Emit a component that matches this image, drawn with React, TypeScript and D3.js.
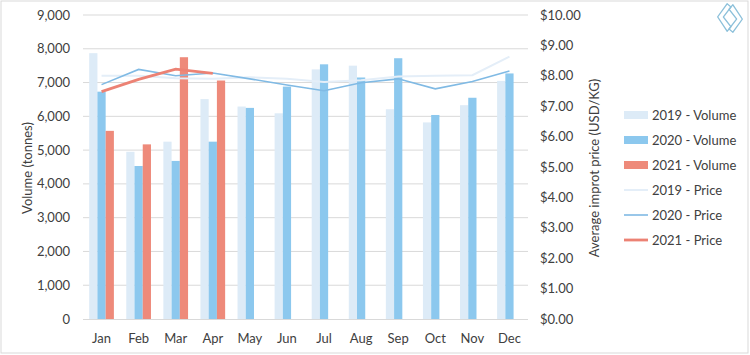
import React from "react";
import * as d3 from "d3";

const months = ["Jan", "Feb", "Mar", "Apr", "May", "Jun", "Jul", "Aug", "Sep", "Oct", "Nov", "Dec"];
const vol2019 = [7870, 4950, 5250, 6510, 6290, 6090, 7390, 7500, 6210, 5820, 6330, 7050];
const vol2020 = [6730, 4530, 4680, 5250, 6250, 6880, 7540, 7150, 7720, 6040, 6550, 7270];
const vol2021 = [5570, 5170, 7750, 7060];
const price2019 = [8.0, 8.0, 7.92, 7.9, 7.95, 7.9, 7.8, 7.85, 7.98, 8.0, 8.02, 8.63];
const price2020 = [7.71, 8.21, 8.0, 8.09, 7.9, 7.7, 7.51, 7.77, 7.9, 7.57, 7.81, 8.16];
const price2021 = [7.48, 7.88, 8.22, 8.08];
const volTicks = [0, 1000, 2000, 3000, 4000, 5000, 6000, 7000, 8000, 9000];
const priceTicks = [0, 1, 2, 3, 4, 5, 6, 7, 8, 9, 10];
const legendLabels = ["2019 - Volume", "2020 - Volume", "2021 - Volume", "2019 - Price", "2020 - Price", "2021 - Price"];

const C19 = "#DDEBF7";
const C20 = "#8CC8EE";
const C21 = "#EE8A7A";
const L19 = "#E4EEF8";
const L20 = "#80BAE4";
const L21 = "#EC8274";
const FONT = "Lato, 'Open Sans', sans-serif";

export default function App() {
  const W = 750, H = 355;
  const left = 83, right = 528, top = 15, bottom = 319;
  const x = d3.scaleBand<string>().domain(months).range([left, right]).padding(0);
  const bw = x.bandwidth();
  const inner = d3.scaleBand<string>().domain(["a", "b", "c"]).range([bw * 0.167, bw * 0.833]).padding(0);
  const yV = d3.scaleLinear().domain([0, 9000]).range([bottom, top]);
  const yP = d3.scaleLinear().domain([0, 10]).range([bottom, top]);
  const cx = (m: string) => (x(m) as number) + bw / 2;
  const line = d3.line<number>().x((_, i) => cx(months[i])).y((d) => yP(d));
  const fmt = d3.format(",");
  const series = [
    { key: "a", data: vol2019, color: C19 },
    { key: "b", data: vol2020, color: C20 },
    { key: "c", data: vol2021, color: C21 },
  ];
  const legendSw = [
    { type: "rect", color: C19 },
    { type: "rect", color: C20 },
    { type: "rect", color: C21 },
    { type: "line", color: L19, w: 2 },
    { type: "line", color: L20, w: 1.6 },
    { type: "line", color: L21, w: 2.8 },
  ];
  return (
    <svg width={W} height={H} style={{ position: "absolute", left: 0, top: 0 }} fontFamily={FONT}>
      <rect x={0} y={0} width={W} height={H} fill="#fff" />
      <rect x={1} y={1} width={747} height={352} fill="none" stroke="#D9D9D9" strokeWidth={1} />
      {volTicks.map((t) => (
        <g key={t}>
          {t > 0 && <line x1={left} x2={right} y1={yV(t)} y2={yV(t)} stroke="#D9D9D9" strokeWidth={1} />}
          <text x={70} y={yV(t)} dy="0.35em" textAnchor="end" fontSize={13} fill="#404040">{fmt(t)}</text>
        </g>
      ))}
      {priceTicks.map((t) => (
        <text key={t} x={540} y={yP(t)} dy="0.35em" textAnchor="start" fontSize={13} fill="#404040">
          {d3.format("$.2f")(t)}
        </text>
      ))}
      {series.map((s) =>
        s.data.map((v, i) => (
          <rect
            key={s.key + i}
            x={(x(months[i]) as number) + (inner(s.key) as number)}
            y={yV(v)}
            width={inner.bandwidth()}
            height={yV(0) - yV(v)}
            fill={s.color}
          />
        ))
      )}
      <line x1={left} x2={right} y1={bottom + 0.5} y2={bottom + 0.5} stroke="#D9D9D9" strokeWidth={1} />
      <path d={line(price2019) || ""} fill="none" stroke={L19} strokeWidth={2} />
      <path d={line(price2020) || ""} fill="none" stroke={L20} strokeWidth={1.6} />
      <path d={line(price2021) || ""} fill="none" stroke={L21} strokeWidth={2.8} />
      {months.map((m) => (
        <text key={m} x={cx(m)} y={338} dy="0.35em" textAnchor="middle" fontSize={13} fill="#404040">{m}</text>
      ))}
      <text transform={`translate(27,168) rotate(-90)`} textAnchor="middle" dy="0.35em" fontSize={13} fill="#404040">Volume (tonnes)</text>
      <text transform={`translate(594,168) rotate(-90)`} textAnchor="middle" dy="0.35em" fontSize={13} fill="#404040">Average improt price (USD/KG)</text>
      {legendLabels.map((l, i) => {
        const yy = 115 + i * 25;
        const sw = legendSw[i];
        return (
          <g key={l}>
            {sw.type === "rect" ? (
              <rect x={624} y={yy - 4} width={24} height={8} fill={sw.color} />
            ) : (
              <line x1={624} x2={648} y1={yy} y2={yy} stroke={sw.color} strokeWidth={sw.w} />
            )}
            <text x={652} y={yy} dy="0.35em" fontSize={13} fill="#404040">{l}</text>
          </g>
        );
      })}
      <g transform="translate(730,18) scale(0.95,1.1)" fill="none" stroke="#8CC0DA" strokeWidth={1.3} strokeLinejoin="round">
        <path d="M -3,-13 L -13,-1 L -3,12 L 1,8 L -7,-1 L 1,-10 Z" />
        <path d="M 3,13 L 13,1 L 3,-12 L -1,-8 L 7,1 L -1,10 Z" />
      </g>
    </svg>
  );
}
